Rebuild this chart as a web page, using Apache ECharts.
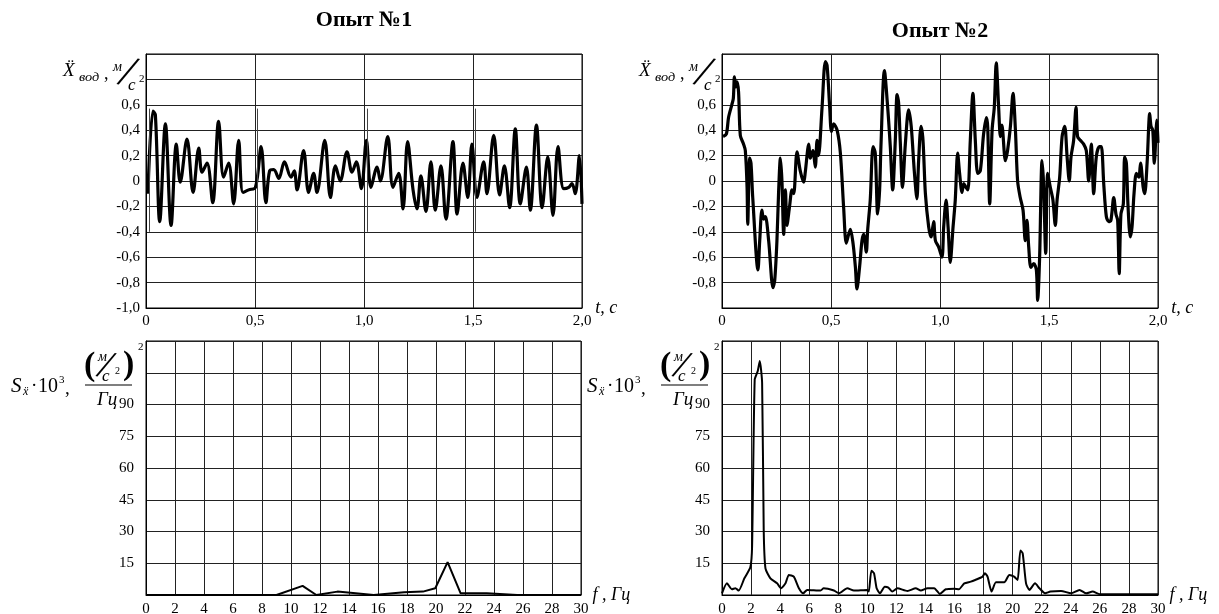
<!DOCTYPE html>
<html>
<head>
<meta charset="utf-8">
<script src="https://cdn.jsdelivr.net/npm/echarts@6/dist/echarts.min.js"></script>
<style>
  html, body { margin: 0; padding: 0; background: #fff; }
  #chart { width: 1219px; height: 614px; }
</style>
</head>
<body>
<div id="chart"></div>
<script>
// Опыт №1 — ускорение во времени
const t1 = [0.009, 0.032, 0.043, 0.063, 0.089, 0.115, 0.139, 0.157, 0.188, 0.216, 0.242, 0.257, 0.280, 0.306, 0.333, 0.356, 0.379, 0.402, 0.425, 0.445, 0.471, 0.502, 0.528, 0.550, 0.567, 0.586, 0.609, 0.635, 0.665, 0.680, 0.693, 0.723, 0.746, 0.769, 0.784, 0.820, 0.846, 0.869, 0.891, 0.922, 0.945, 0.965, 0.988, 1.011, 1.032, 1.060, 1.075, 1.109, 1.133, 1.159, 1.179, 1.200, 1.225, 1.243, 1.261, 1.284, 1.307, 1.327, 1.353, 1.376, 1.408, 1.427, 1.454, 1.476, 1.495, 1.518, 1.549, 1.564, 1.595, 1.622, 1.644, 1.668, 1.694, 1.717, 1.745, 1.763, 1.791, 1.817, 1.843, 1.867, 1.890, 1.916, 1.939, 1.954, 1.969, 1.988, 2.000]
const x1 = [-0.10, 0.55, 0.52, -0.32, 0.45, -0.35, 0.29, -0.01, 0.33, -0.09, 0.26, 0.07, 0.14, -0.17, 0.47, 0.03, 0.14, -0.18, 0.32, -0.09, -0.07, -0.05, 0.27, -0.17, 0.08, 0.09, 0.02, 0.15, 0.03, 0.08, -0.07, 0.24, -0.09, 0.06, -0.09, 0.32, -0.13, 0.12, 0.00, 0.23, 0.07, 0.15, -0.06, 0.32, -0.05, 0.11, 0.00, 0.35, -0.05, 0.06, -0.22, 0.31, -0.07, -0.22, 0.04, -0.24, 0.15, -0.23, 0.12, -0.30, 0.31, -0.26, 0.14, -0.13, 0.29, -0.13, 0.15, -0.10, 0.36, -0.11, 0.12, -0.21, 0.41, -0.18, 0.11, -0.23, 0.44, -0.21, 0.19, -0.27, 0.27, -0.06, -0.05, -0.02, -0.10, 0.20, -0.18]

// Опыт №2
const t2 = [0.005, 0.020, 0.030, 0.045, 0.052, 0.057, 0.063, 0.069, 0.076, 0.084, 0.099, 0.107, 0.115, 0.118, 0.127, 0.133, 0.141, 0.165, 0.173, 0.183, 0.191, 0.199, 0.214, 0.234, 0.242, 0.252, 0.260, 0.268, 0.275, 0.283, 0.291, 0.298, 0.310, 0.321, 0.329, 0.344, 0.359, 0.375, 0.382, 0.398, 0.405, 0.417, 0.428, 0.436, 0.443, 0.459, 0.474, 0.482, 0.494, 0.502, 0.512, 0.528, 0.543, 0.558, 0.570, 0.581, 0.589, 0.601, 0.612, 0.619, 0.631, 0.642, 0.650, 0.662, 0.668, 0.680, 0.693, 0.703, 0.714, 0.723, 0.729, 0.745, 0.760, 0.772, 0.783, 0.795, 0.803, 0.810, 0.818, 0.828, 0.841, 0.856, 0.868, 0.882, 0.894, 0.902, 0.913, 0.922, 0.933, 0.948, 0.959, 0.971, 0.979, 0.994, 1.009, 1.017, 1.028, 1.037, 1.047, 1.060, 1.070, 1.081, 1.090, 1.101, 1.109, 1.119, 1.128, 1.139, 1.151, 1.162, 1.173, 1.185, 1.200, 1.213, 1.219, 1.228, 1.239, 1.249, 1.258, 1.269, 1.277, 1.284, 1.300, 1.310, 1.323, 1.335, 1.346, 1.356, 1.368, 1.381, 1.391, 1.399, 1.407, 1.417, 1.430, 1.442, 1.448, 1.457, 1.468, 1.475, 1.485, 1.494, 1.506, 1.518, 1.529, 1.537, 1.549, 1.560, 1.572, 1.583, 1.593, 1.601, 1.613, 1.624, 1.631, 1.644, 1.659, 1.671, 1.682, 1.694, 1.705, 1.717, 1.731, 1.740, 1.751, 1.763, 1.774, 1.784, 1.797, 1.807, 1.815, 1.822, 1.830, 1.841, 1.847, 1.855, 1.862, 1.873, 1.881, 1.890, 1.901, 1.912, 1.920, 1.932, 1.939, 1.950, 1.962, 1.968, 1.976, 1.983, 1.995, 2.000]
const x2 = [0.35, 0.37, 0.50, 0.60, 0.65, 0.82, 0.74, 0.78, 0.70, 0.36, 0.29, 0.24, -0.05, -0.34, 0.18, 0.14, -0.13, -0.70, -0.47, -0.23, -0.30, -0.28, -0.47, -0.84, -0.78, -0.47, -0.07, 0.18, 0.00, -0.42, -0.07, -0.35, -0.20, -0.07, -0.10, 0.23, 0.08, -0.01, 0.07, 0.29, 0.18, 0.24, 0.11, 0.32, 0.20, 0.58, 0.94, 0.91, 0.58, 0.39, 0.45, 0.40, 0.22, -0.21, -0.49, -0.42, -0.38, -0.49, -0.68, -0.85, -0.68, -0.47, -0.42, -0.56, -0.39, -0.15, 0.27, 0.22, -0.26, -0.07, 0.27, 0.87, 0.58, 0.27, -0.07, 0.32, 0.68, 0.62, 0.30, -0.05, 0.29, 0.56, 0.43, 0.08, -0.14, 0.16, 0.43, 0.32, -0.10, -0.36, -0.44, -0.32, -0.47, -0.52, -0.60, -0.36, -0.15, -0.36, -0.64, -0.36, -0.15, 0.22, 0.06, -0.09, -0.02, -0.05, -0.07, 0.32, 0.69, 0.32, 0.06, 0.08, 0.37, 0.50, 0.42, -0.18, 0.40, 0.58, 0.93, 0.58, 0.35, 0.44, 0.16, 0.24, 0.43, 0.69, 0.40, 0.00, -0.13, -0.23, -0.47, -0.31, -0.52, -0.68, -0.65, -0.70, -0.94, -0.60, 0.16, -0.02, -0.57, 0.06, -0.05, -0.15, -0.35, -0.15, 0.03, 0.35, 0.43, 0.19, 0.00, 0.19, 0.32, 0.58, 0.35, 0.32, 0.29, 0.24, 0.00, 0.29, -0.10, 0.19, 0.27, 0.27, -0.02, -0.28, -0.32, -0.31, -0.13, -0.26, -0.31, -0.73, -0.26, -0.18, 0.19, 0.14, -0.18, -0.44, -0.36, -0.10, 0.06, 0.03, 0.14, -0.05, -0.10, 0.14, 0.53, 0.43, 0.40, 0.14, 0.48, 0.30]

// спектральная плотность, Опыт №1
const f1 = [0, 9.0, 10.8, 11.75, 13.2, 14.1, 15.7, 17.8, 19.1, 19.95, 20.8, 21.7, 23.5, 25.6, 30]
const s1 = [0, 0, 4.3, 0, 1.6, 1.1, 0, 1.3, 1.6, 3.2, 15.5, 0.8, 0.8, 0, 0]

// спектральная плотность, Опыт №2
const f2 = [0, 0.34, 0.69, 0.92, 1.15, 1.54, 1.95, 2.07, 2.25, 2.46, 2.6, 2.76, 2.87, 2.99, 3.33, 3.79, 4.07, 4.37, 4.6, 4.94, 5.29, 5.59, 5.86, 6.78, 7.0, 7.7, 8.05, 8.62, 9.08, 10.0, 10.1, 10.28, 10.46, 10.64, 10.87, 11.2, 11.45, 11.72, 12.07, 12.76, 13.33, 13.68, 14.14, 14.6, 14.99, 15.4, 15.98, 16.3, 16.67, 17.12, 17.42, 17.93, 18.09, 18.27, 18.55, 18.85, 19.42, 19.77, 20.1, 20.34, 20.53, 20.69, 20.92, 21.15, 21.54, 21.84, 22.23, 22.6, 23.33, 24.02, 24.6, 25.06, 25.5, 26.0, 30]
const s2 = [0.8, 5.5, 2.7, 3.2, 2.1, 7.9, 13.1, 22.9, 101.8, 105.8, 110.5, 100.3, 30.8, 12.6, 7.9, 5.5, 3.2, 5.5, 9.5, 8.7, 3.2, 0.8, 2.4, 2.1, 3.2, 2.1, 0.8, 3.2, 2.1, 2.4, 1.6, 11.5, 10.3, 3.2, 0.8, 3.9, 3.5, 1.6, 3.2, 1.9, 3.2, 2.1, 3.2, 3.2, 0.5, 2.7, 3.0, 2.7, 5.5, 6.3, 7.1, 8.7, 10.3, 8.7, 1.6, 6.0, 6.0, 9.5, 8.7, 7.1, 21.0, 19.7, 5.5, 2.4, 5.5, 3.2, 0.8, 1.6, 1.9, 0.8, 2.4, 0.8, 1.6, 0.3, 0.3]

// тонкие вертикальные штрихи на первом графике
const stubT = [0.015, 0.511, 1.014, 1.511]

const SERIF = "'Liberation Serif', 'DejaVu Serif', serif"

function pairs(xs, ys) {
  return xs.map((x, i) => [x, ys[i]])
}

function comma(v, digits) {
  if (Math.abs(v) < 1e-9) return '0'
  return v.toFixed(digits).replace('.', ',')
}

function txt(x, y, s, font, opts) {
  opts = opts || {}
  const align = opts.align || 'left'
  return {
    type: 'text',
    x: x,
    y: y,
    rotation: opts.rot || 0,
    scaleX: opts.sx || 1,
    silent: true,
    style: {
      text: s,
      font: font,
      fill: '#000',
      textAlign: align,
      textVerticalAlign: 'middle',
      align: align,
      verticalAlign: 'middle'
    }
  }
}

// подпись оси ускорения
function accelLabel(ox) {
  return [
    txt(ox + 63, 71, 'Ẍ', 'italic 19px ' + SERIF),
    txt(ox + 79, 78, 'вод', 'italic 13px ' + SERIF, { sx: 1.1 }),
    txt(ox + 104, 74, ',', '18px ' + SERIF),
    txt(ox + 113, 67, 'м', 'italic 14px ' + SERIF),
    txt(ox + 127, 74, '/', 'italic 44px ' + SERIF, { align: 'center', rot: -0.22 }),
    txt(ox + 128, 86, 'с', 'italic 17px ' + SERIF),
    txt(ox + 139, 79, '2', '11px ' + SERIF)
  ]
}

// подпись оси спектральной плотности
function spectrumLabel(ox) {
  return [
    txt(ox + 11, 386, 'S', 'italic 21px ' + SERIF),
    txt(ox + 23, 392, 'ẍ', 'italic 12px ' + SERIF),
    txt(ox + 31, 386, '·', '19px ' + SERIF),
    txt(ox + 38, 387, '10', '20px ' + SERIF),
    txt(ox + 59, 380, '3', '11px ' + SERIF),
    txt(ox + 65, 389, ',', '19px ' + SERIF),
    txt(ox + 84, 366, '(', 'bold 34px ' + SERIF),
    txt(ox + 98, 357, 'м', 'italic 14px ' + SERIF),
    txt(ox + 105, 367, '/', 'italic 40px ' + SERIF, { align: 'center', rot: -0.22 }),
    txt(ox + 102, 377, 'с', 'italic 17px ' + SERIF),
    txt(ox + 115, 371, '2', '10px ' + SERIF),
    txt(ox + 123, 365, ')', 'bold 34px ' + SERIF),
    txt(ox + 138, 347, '2', '11px ' + SERIF),
    {
      type: 'line',
      silent: true,
      shape: { x1: ox + 85, y1: 385, x2: ox + 132, y2: 385 },
      style: { stroke: '#000', lineWidth: 1.2 }
    },
    txt(ox + 97, 400, 'Гц', 'italic 19px ' + SERIF)
  ]
}

const gridLine = { show: true, lineStyle: { color: '#222', width: 1 } }
const axLine = { show: true, onZero: false, lineStyle: { color: '#000', width: 1 } }
const labelBase = { fontFamily: SERIF, fontSize: 15, color: '#000' }

function timeAxis(gi) {
  return {
    type: 'value', gridIndex: gi, min: 0, max: 2, interval: 0.5,
    axisLine: axLine, axisTick: { show: false }, splitLine: gridLine,
    axisLabel: Object.assign({}, labelBase, { margin: 6, formatter: v => comma(v, 1) }),
    name: 't, с', nameLocation: 'end', nameGap: 9,
    nameTextStyle: { fontFamily: SERIF, fontStyle: 'italic', fontSize: 18, color: '#000', align: 'left', verticalAlign: 'middle', padding: [0, 0, 4, 0] }
  }
}

function freqAxis(gi) {
  return {
    type: 'value', gridIndex: gi, min: 0, max: 30, interval: 2,
    axisLine: axLine, axisTick: { show: false }, splitLine: gridLine,
    axisLabel: Object.assign({}, labelBase, { margin: 7 }),
    name: 'f , Гц', nameLocation: 'end', nameGap: 9,
    nameTextStyle: { fontFamily: SERIF, fontStyle: 'italic', fontSize: 18, color: '#000', align: 'left', verticalAlign: 'middle', padding: [0, 0, 0, 0] }
  }
}

function accelAxis(gi, lo) {
  return {
    type: 'value', gridIndex: gi, min: -1, max: 1, interval: 0.2,
    axisLine: axLine, axisTick: { show: false }, splitLine: gridLine,
    axisLabel: Object.assign({}, labelBase, {
      margin: 6,
      formatter: v => (v <= 0.61 && v >= lo - 0.01) ? comma(v, 1) : ''
    })
  }
}

function spectrumAxis(gi) {
  return {
    type: 'value', gridIndex: gi, min: 0, max: 120, interval: 15,
    axisLine: axLine, axisTick: { show: false }, splitLine: gridLine,
    axisLabel: Object.assign({}, labelBase, {
      margin: 12,
      formatter: v => (v >= 15 && v <= 90) ? String(v) : ''
    })
  }
}

function grid(left, top, width) {
  return {
    left: left, top: top, width: width, height: 254,
    containLabel: false, outerBoundsMode: 'none',
    show: true, borderColor: '#000', borderWidth: 1
  }
}

const chart = echarts.init(document.getElementById('chart'), null, { renderer: 'canvas' })

chart.setOption({
  animation: false,
  backgroundColor: '#fff',
  grid: [grid(146, 54, 436), grid(722, 54, 436), grid(146, 341, 435), grid(722, 341, 436)],
  xAxis: [timeAxis(0), timeAxis(1), freqAxis(2), freqAxis(3)],
  yAxis: [accelAxis(0, -1), accelAxis(1, -0.8), spectrumAxis(2), spectrumAxis(3)],
  graphic: [
    txt(364, 20, 'Опыт №1', 'bold 22px ' + SERIF, { align: 'center' }),
    txt(940, 31, 'Опыт №2', 'bold 22px ' + SERIF, { align: 'center' })
  ].concat(accelLabel(0), accelLabel(576), spectrumLabel(0), spectrumLabel(576)),
  series: [
    {
      type: 'line', xAxisIndex: 0, yAxisIndex: 0,
      data: pairs(t1, x1), smooth: 0.35, symbol: 'none',
      lineStyle: { color: '#000', width: 3.2 },
      markLine: {
        silent: true, symbol: 'none', label: { show: false },
        lineStyle: { color: '#444', width: 1, type: 'solid' },
        data: stubT.map(t => [{ coord: [t, 0.57] }, { coord: [t, -0.4] }])
      }
    },
    {
      type: 'line', xAxisIndex: 1, yAxisIndex: 1,
      data: pairs(t2, x2), smooth: 0.3, symbol: 'none',
      lineStyle: { color: '#000', width: 3.2 }
    },
    {
      type: 'line', xAxisIndex: 2, yAxisIndex: 2,
      data: pairs(f1, s1), symbol: 'none',
      lineStyle: { color: '#000', width: 2 }
    },
    {
      type: 'line', xAxisIndex: 3, yAxisIndex: 3,
      data: pairs(f2, s2), smooth: 0.2, symbol: 'none',
      lineStyle: { color: '#000', width: 2 }
    }
  ]
})
</script>
</body>
</html>
